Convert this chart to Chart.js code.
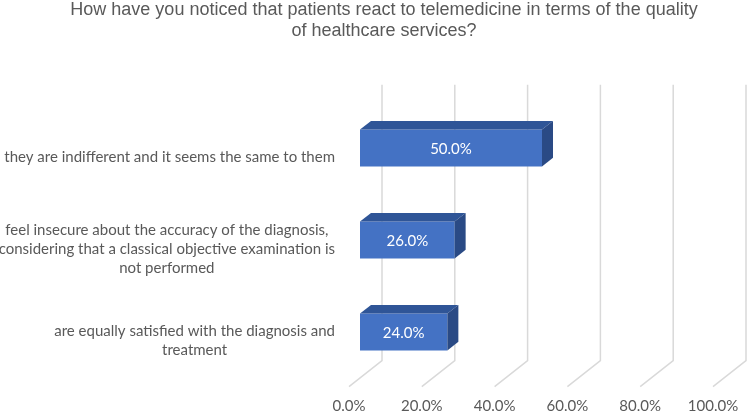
<!DOCTYPE html>
<html><head><meta charset="utf-8">
<script src="https://cdn.jsdelivr.net/npm/chart.js@4"></script>
<style>html,body{margin:0;padding:0;background:#fff}#wrap{width:750px;height:413px}</style>
</head><body><div id="wrap"><canvas id="c" width="750" height="413"></canvas></div>
<script>
const titleLines = [
  "How have you noticed that patients react to telemedicine in terms of the quality",
  "of healthcare services?"
];
const categories = [
  ["they are indifferent and it seems the same to them"],
  ["feel insecure about the accuracy of the diagnosis,", "considering that a classical objective examination is", "not performed"],
  ["are equally satisfied with the diagnosis and", "treatment"]
];
const values = [50.0, 26.0, 24.0];
const xTicks = [0, 20, 40, 60, 80, 100];

const TEXT_GREY = '#595959';
const LABEL_FONT = '15px Lato, "Open Sans", sans-serif';
// oblique 3D depth: floor front, bar back, back wall (relative to bar front plane)
const FRONT = {dx: -11, dy: 8.7};
const BARBACK = {dx: 11, dy: -8.7};
const WALL = {dx: 22, dy: -17.3};

const depth3D = {
  id: 'depth3D',
  beforeDatasetsDraw(chart) {
    const {ctx, chartArea, scales: {x}} = chart;
    ctx.save();
    ctx.strokeStyle = '#D9D9D9';
    ctx.lineWidth = 1.5;
    xTicks.forEach(v => {
      const px = x.getPixelForValue(v);
      ctx.beginPath();
      ctx.moveTo(px + FRONT.dx, chartArea.bottom + FRONT.dy);
      ctx.lineTo(px + WALL.dx, chartArea.bottom + WALL.dy);
      ctx.lineTo(px + WALL.dx, chartArea.top + WALL.dy);
      ctx.stroke();
    });
    ctx.restore();
  },
  afterDatasetsDraw(chart) {
    const {ctx, chartArea, scales: {y}} = chart;
    const meta = chart.getDatasetMeta(0);
    ctx.save();
    meta.data.forEach((bar, i) => {
      const p = bar.getProps(['x', 'y', 'base', 'height'], true);
      const top = p.y - p.height / 2, bottom = p.y + p.height / 2;
      const l = Math.min(p.base, p.x), r = Math.max(p.base, p.x);
      ctx.fillStyle = '#2F5597';
      ctx.beginPath();
      ctx.moveTo(l, top);
      ctx.lineTo(l + BARBACK.dx, top + BARBACK.dy);
      ctx.lineTo(r + BARBACK.dx, top + BARBACK.dy);
      ctx.lineTo(r, top);
      ctx.closePath();
      ctx.fill();
      ctx.fillStyle = '#2A4A85';
      ctx.beginPath();
      ctx.moveTo(r, top);
      ctx.lineTo(r + BARBACK.dx, top + BARBACK.dy);
      ctx.lineTo(r + BARBACK.dx, bottom + BARBACK.dy);
      ctx.lineTo(r, bottom);
      ctx.closePath();
      ctx.fill();
      ctx.fillStyle = '#FFFFFF';
      ctx.font = '15px Lato, "Open Sans", sans-serif';
      ctx.textAlign = 'center';
      ctx.textBaseline = 'middle';
      ctx.fillText(values[i].toFixed(1) + '%', (l + r) / 2, p.y + 1);
    });
    // category labels (right-aligned blocks, centred lines)
    ctx.fillStyle = TEXT_GREY;
    ctx.font = LABEL_FONT;
    ctx.textAlign = 'center';
    ctx.textBaseline = 'middle';
    const rightEdge = chartArea.left + FRONT.dx - 14;
    const lh = 19;
    categories.forEach((lines, i) => {
      const cy = y.getPixelForValue(i) + FRONT.dy;
      const maxW = Math.max(...lines.map(s => ctx.measureText(s).width));
      const cx = rightEdge - maxW / 2;
      lines.forEach((s, j) => {
        ctx.fillText(s, cx, cy + (j - (lines.length - 1) / 2) * lh);
      });
    });
    ctx.restore();
  }
};

new Chart(document.getElementById('c'), {
  type: 'bar',
  data: {
    labels: categories,
    datasets: [{
      data: values,
      backgroundColor: '#4472C4',
      borderWidth: 0,
      categoryPercentage: 1,
      barPercentage: 0.4
    }]
  },
  options: {
    indexAxis: 'y',
    responsive: false,
    animation: false,
    devicePixelRatio: 1,
    layout: {padding: {left: 18, right: 0, top: 0, bottom: 0}},
    plugins: {
      legend: {display: false},
      tooltip: {enabled: false},
      title: {
        display: true,
        text: titleLines,
        color: TEXT_GREY,
        font: {family: '"Liberation Sans", Arial, sans-serif', size: 18, weight: 'normal', lineHeight: 1.15},
        padding: {top: 0, bottom: 60.6}
      }
    },
    scales: {
      x: {
        min: 0, max: 100,
        afterBuildTicks: s => { s.ticks = xTicks.map(v => ({value: v})); },
        afterFit: s => { s.height = 35; s.paddingLeft = 0; s.paddingRight = 0; },
        grid: {display: false, drawTicks: false},
        border: {display: false},
        ticks: {
          color: TEXT_GREY,
          font: {family: 'Lato, "Open Sans", sans-serif', size: 15},
          labelOffset: -11,
          padding: 19,
          maxRotation: 0,
          callback: v => Number(v).toFixed(1) + '%'
        }
      },
      y: {
        grid: {display: false},
        border: {display: false},
        ticks: {display: false},
        afterFit: s => { s.width = 342; }
      },
      yR: {
        type: 'linear',
        position: 'right',
        grid: {display: false},
        border: {display: false},
        ticks: {display: false},
        afterFit: s => { s.width = 26; }
      }
    }
  },
  plugins: [depth3D]
});
</script>
</body></html>
